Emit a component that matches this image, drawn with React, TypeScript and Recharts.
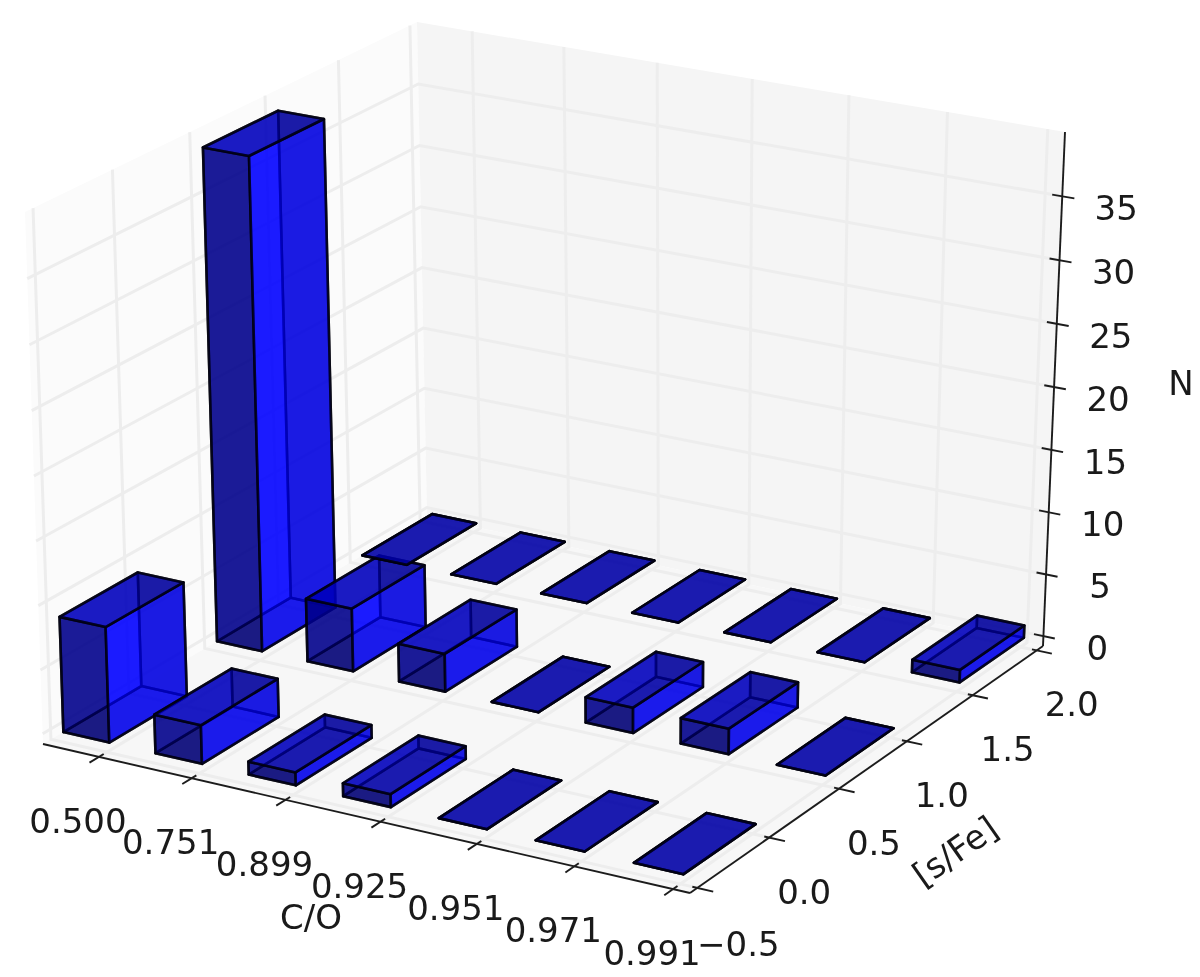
import React from "react";
import { ScatterChart, Scatter, XAxis, YAxis } from "recharts";

// ---- data ----
const coLabels = ["0.500", "0.751", "0.899", "0.925", "0.951", "0.971", "0.991"];
const sFeTicks = [-0.5, 0, 0.5, 1, 1.5, 2];
const nTicks = [0, 5, 10, 15, 20, 25, 30, 35];
const rowStarts = [-0.5, 0.5, 1.5];
const countsLow = [9, 3, 1, 1, 0, 0, 0];
const countsMid = [39, 5, 3, 0, 2, 2, 0];
const countsHigh = [0, 0, 0, 0, 0, 0, 1];

// ---- 3D view ----
const W = 1200, H = 977;
const XLIM = [-0.14, 6.64], YLIM = [-0.55, 2.05], ZLIM = [-0.8, 40];
const BAR = 0.5, XTICK_OFF = 0.47;
type P = [number, number];
const floorQuad: P[] = [[43, 744], [690, 893], [1043, 646], [427, 517]];
const topQuad: P[] = [[25, 212], [695, 343], [1065, 132], [417, 22]];

function homography(q: P[]) {
  const [[x0, y0], [x1, y1], [x2, y2], [x3, y3]] = q;
  const dx1 = x1 - x2, dx2 = x3 - x2, dy1 = y1 - y2, dy2 = y3 - y2;
  const sx = x0 - x1 + x2 - x3, sy = y0 - y1 + y2 - y3;
  const det = dx1 * dy2 - dx2 * dy1;
  const g = (sx * dy2 - dx2 * sy) / det, h = (dx1 * sy - sx * dy1) / det;
  const a = x1 - x0 + g * x1, b = x3 - x0 + h * x3;
  const d = y1 - y0 + g * y1, e = y3 - y0 + h * y3;
  return (u: number, v: number): P => {
    const w = g * u + h * v + 1;
    return [(a * u + b * v + x0) / w, (d * u + e * v + y0) / w];
  };
}
const floorH = homography(floorQuad), topH = homography(topQuad);
function proj(x: number, y: number, z: number): P {
  const u = (x - XLIM[0]) / (XLIM[1] - XLIM[0]);
  const v = (y - YLIM[0]) / (YLIM[1] - YLIM[0]);
  const r = (z - ZLIM[0]) / (ZLIM[1] - ZLIM[0]);
  const t = r - 0.024 * r * (1 - r);
  const f = floorH(u, v), c = topH(u, v);
  return [f[0] + (c[0] - f[0]) * t, f[1] + (c[1] - f[1]) * t];
}

type Shape = { pts: P[]; fill?: string; fillOpacity?: number; stroke?: string; strokeWidth?: number; strokeOpacity?: number };
type Rec = { px: number; py: number; shapes?: Shape[]; text?: string; rot?: number };
const rec = (shapes: Shape[]): Rec => ({ px: shapes[0].pts[0][0], py: shapes[0].pts[0][1], shapes });

const [x0, x1] = XLIM, [y0, y1] = YLIM, [z0, z1] = ZLIM;

// ---- panes ----
const panes: Rec[] = [
  rec([{ pts: [proj(x0, y0, z0), proj(x0, y1, z0), proj(x0, y1, z1), proj(x0, y0, z1)], fill: "#fbfbfb" }]),
  rec([{ pts: [proj(x0, y1, z0), proj(x1, y1, z0), proj(x1, y1, z1), proj(x0, y1, z1)], fill: "#f5f5f5" }]),
  rec([{ pts: [proj(x0, y0, z0), proj(x1, y0, z0), proj(x1, y1, z0), proj(x0, y1, z0)], fill: "#f7f7f7" }]),
];

// ---- grid ----
const GRID = "#ededed";
const gridLine = (pts: P[]): Rec => rec([{ pts, stroke: GRID, strokeWidth: 3 }]);
const gridLines: Rec[] = [
  ...coLabels.map((_, i) => gridLine([proj(i + XTICK_OFF, y0, z0), proj(i + XTICK_OFF, y1, z0), proj(i + XTICK_OFF, y1, z1)])),
  ...sFeTicks.map((y) => gridLine([proj(x1, y, z0), proj(x0, y, z0), proj(x0, y, z1)])),
  ...nTicks.map((z) => gridLine([proj(x0, y0, z), proj(x0, y1, z), proj(x1, y1, z)])),
];

// ---- axis lines and ticks ----
const AXIS = "#1c1c1c";
const axisLine = (pts: P[], w = 1.9): Rec => rec([{ pts, stroke: AXIS, strokeWidth: w }]);
const axes: Rec[] = [
  axisLine([proj(x0, y0, z0), proj(x1, y0, z0)]),
  axisLine([proj(x1, y0, z0), proj(x1, y1, z0)]),
  axisLine([proj(x1, y1, z0), proj(x1, y1, z1)]),
  ...coLabels.map((_, i) => axisLine([proj(i + XTICK_OFF, y0 + 0.03, z0), proj(i + XTICK_OFF, y0 - 0.06, z0)])),
  ...sFeTicks.map((y) => axisLine([proj(x1 - 0.05, y, z0), proj(x1 + 0.16, y, z0)])),
  ...nTicks.map((z) => axisLine([proj(x1 - 0.1, y1, z), proj(x1 + 0.12, y1, z)])),
];

// ---- bars ----
const FACE = {
  bottom: "#0000a6", back: "#000080", xmin: "#0000ff", front: "#000064", xmax: "#0000ff", top: "#0000a6",
};
function barShapes(x: number, y: number, h: number): Shape[] {
  const xa = x, xb = x + BAR, ya = y, yb = y + BAR;
  const f = (pts: P[], fill: string): Shape => ({
    pts, fill, fillOpacity: 0.67, stroke: "#00000c", strokeWidth: 2.6, strokeOpacity: 0.8,
  });
  return [
    f([proj(xa, ya, 0), proj(xb, ya, 0), proj(xb, yb, 0), proj(xa, yb, 0)], FACE.bottom),
    f([proj(xa, yb, 0), proj(xb, yb, 0), proj(xb, yb, h), proj(xa, yb, h)], FACE.back),
    f([proj(xa, ya, 0), proj(xa, yb, 0), proj(xa, yb, h), proj(xa, ya, h)], FACE.xmin),
    f([proj(xa, ya, 0), proj(xb, ya, 0), proj(xb, ya, h), proj(xa, ya, h)], FACE.front),
    f([proj(xb, ya, 0), proj(xb, yb, 0), proj(xb, yb, h), proj(xb, ya, h)], FACE.xmax),
    f([proj(xa, ya, h), proj(xb, ya, h), proj(xb, yb, h), proj(xa, yb, h)], FACE.top),
  ];
}
const rows = [countsLow, countsMid, countsHigh];
const bars: Rec[] = [1, 2, 0].flatMap((r) =>
  rows[r].map((n, i) => rec(barShapes(i, rowStarts[r], n)))
);

// ---- text ----
const label = (p: P, dx: number, dy: number, text: string, rot = 0): Rec => ({ px: p[0] + dx, py: p[1] + dy, text, rot });
const labels: Rec[] = [
  ...coLabels.map((t, i) => label(proj(i + XTICK_OFF, y0, z0), -21, 64, t)),
  ...sFeTicks.map((y) =>
    y < 0
      ? label(proj(x1, y, z0), 41, 56, "\u2212" + Math.abs(y).toFixed(1))
      : label(proj(x1, y, z0), 35, 54, y.toFixed(1))
  ),
  ...nTicks.map((z) => label(proj(x1, y1, z), 54, 12, String(z))),
  { px: 311, py: 917, text: "C/O" },
  { px: 955, py: 851, text: "[s/Fe]", rot: -35 },
  { px: 1181, py: 383, text: "N" },
];

// ---- renderers ----
function PolyMark(props: any) {
  const { cx, cy, payload } = props;
  const dx = cx - payload.px, dy = cy - payload.py;
  return (
    <g>
      {payload.shapes.map((s: Shape, i: number) => {
        const d = s.pts.map((p) => `${p[0] + dx},${p[1] + dy}`).join(" ");
        return s.fill ? (
          <polygon key={i} points={d} fill={s.fill} fillOpacity={s.fillOpacity ?? 1} stroke={s.stroke ?? "none"}
            strokeWidth={s.strokeWidth} strokeOpacity={s.strokeOpacity} strokeLinejoin="round" />
        ) : (
          <polyline key={i} points={d} fill="none" stroke={s.stroke} strokeWidth={s.strokeWidth} />
        );
      })}
    </g>
  );
}
function TextMark(props: any) {
  const { cx, cy, payload } = props;
  return (
    <text x={cx} y={cy} textAnchor="middle" dominantBaseline="central" fontFamily="'DejaVu Sans'" fontSize={34}
      fill="#1a1a1a" transform={payload.rot ? `rotate(${payload.rot} ${cx} ${cy})` : undefined}>
      {payload.text}
    </text>
  );
}

export default function App() {
  return (
    <div style={{ position: "absolute", left: 0, top: 0, width: W, height: H, background: "#fff", filter: "blur(0.5px)" }}>
      <ScatterChart width={W} height={H} margin={{ top: 0, right: 0, bottom: 0, left: 0 }}>
        <XAxis type="number" dataKey="px" domain={[0, W]} hide allowDataOverflow />
        <YAxis type="number" dataKey="py" domain={[0, H]} reversed hide allowDataOverflow />
        <Scatter data={panes} shape={PolyMark} isAnimationActive={false} />
        <Scatter data={gridLines} shape={PolyMark} isAnimationActive={false} />
        <Scatter data={axes} shape={PolyMark} isAnimationActive={false} />
        <Scatter data={bars} shape={PolyMark} isAnimationActive={false} />
        <Scatter data={labels} shape={TextMark} isAnimationActive={false} />
      </ScatterChart>
    </div>
  );
}
